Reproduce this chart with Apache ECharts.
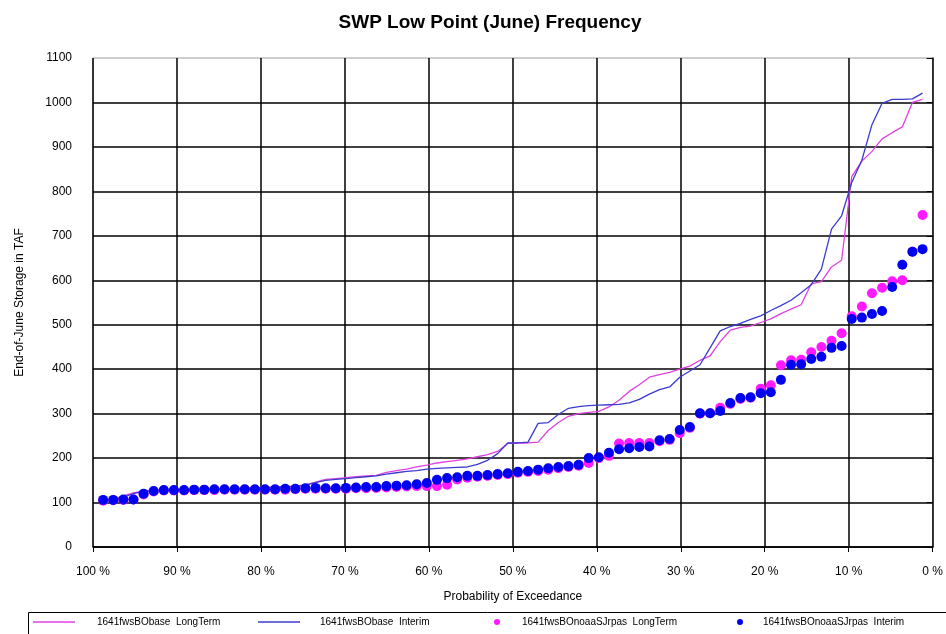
<!DOCTYPE html>
<html>
<head>
<meta charset="utf-8">
<title>SWP Low Point (June) Frequency</title>
<script src="https://cdn.jsdelivr.net/npm/echarts@6/dist/echarts.min.js"></script>
<style>
  html, body { margin: 0; padding: 0; background: #ffffff; }
  #chart { width: 946px; height: 634px; }
</style>
</head>
<body>
<div id="chart"></div>
<script>
// End-of-June SWP storage (TAF), each series sorted ascending (82 years)
const baseLongTerm = [
  105,106,115,122,126,128,128,129,129,130,130,131,131,132,132,133,
  134,135,136,137,140,146,152,154,156,158,160,161,168,172,175,180,
  184,189,192,195,198,203,208,215,233,234,234,236,262,280,294,300,303,305,
  315,330,350,365,382,388,393,400,407,420,430,462,488,494,497,
  505,513,525,535,545,592,597,630,645,833,868,890,918,932,945,1000,1007
];
const baseInterim = [
  105,106,112,120,125,127,128,128,129,129,130,130,131,131,132,132,
  133,134,135,136,139,145,150,152,154,156,158,160,164,167,170,172,
  175,177,178,179,180,186,195,210,234,234,236,278,280,298,312,316,318,319,
  320,321,324,332,344,354,360,382,396,410,448,486,496,503,512,
  520,532,543,555,572,590,625,715,745,820,870,950,998,1007,1007,1008,1021
];
const noaaLongTerm = [
  104,105,106,107,118,125,127,127,127,128,128,128,129,129,129,129,
  129,129,129,130,131,131,131,131,131,132,132,133,134,135,136,137,
  137,137,140,152,156,158,160,162,164,167,169,171,174,177,180,183,189,200,
  205,233,234,234,234,238,241,256,268,300,301,313,322,333,336,
  356,364,409,420,421,438,450,464,481,519,541,571,583,598,600,664,747
];
const noaaInterim = [
  106,106,107,107,120,126,128,128,128,129,129,130,130,130,130,130,
  130,130,131,131,132,133,132,132,133,134,135,135,137,138,139,141,
  144,151,155,157,160,160,162,164,166,169,171,174,177,180,182,185,200,202,
  212,220,222,225,226,240,243,263,270,301,301,306,324,335,337,
  346,348,376,410,411,423,428,448,452,513,516,524,531,585,635,664,670
];

const seriesNames = [
  '1641fwsBObase  LongTerm',
  '1641fwsBObase  Interim',
  '1641fwsBOnoaaSJrpas  LongTerm',
  '1641fwsBOnoaaSJrpas  Interim'
];
const xTicks = [100, 90, 80, 70, 60, 50, 40, 30, 20, 10, 0];

// Weibull plotting position: rank / (n + 1), largest value = smallest exceedance
function withExceedance(values) {
  const n = values.length;
  return values.map((v, i) => [(n - i) / (n + 1) * 100, v]);
}

const FONT = 'Liberation Sans, Arial, sans-serif';
const chart = echarts.init(document.getElementById('chart'), null, { renderer: 'canvas' });

// one legend per entry so each sits where the caption row puts it
function legendAt(left, name, icon, textPad, itemWidth, itemHeight) {
  return {
    left: left, top: 617,
    itemWidth: itemWidth, itemHeight: itemHeight,
    padding: 0,
    selectedMode: false,
    data: [{ name: name, icon: icon }],
    textStyle: { fontFamily: FONT, fontSize: 10, color: '#000', padding: [0, 0, 0, textPad] }
  };
}

chart.setOption({
  animation: false,
  backgroundColor: '#ffffff',
  title: {
    text: 'SWP Low Point (June) Frequency',
    left: 485, top: 8, textAlign: 'center',
    textStyle: { fontFamily: FONT, fontSize: 19, fontWeight: 'bold', color: '#000' }
  },
  grid: {
    left: 93, right: 12, top: 58, bottom: 87,
    show: true, borderColor: '#9a9a9a', borderWidth: 1, backgroundColor: 'transparent'
  },
  legend: [
    legendAt(33, seriesNames[0], 'rect', 17, 42, 1.5),
    legendAt(258, seriesNames[1], 'rect', 15, 42, 1.5),
    legendAt(494, seriesNames[2], 'circle', 17, 6, 6),
    legendAt(737, seriesNames[3], 'circle', 15, 6, 6)
  ],
  graphic: [{
    type: 'rect', left: 28, top: 612, silent: true,
    shape: { width: 930, height: 30 },
    style: { fill: 'transparent', stroke: '#000', lineWidth: 1 }
  }],
  xAxis: {
    type: 'value', min: 0, max: 100, interval: 10, inverse: true,
    name: 'Probability of Exceedance', nameLocation: 'middle', nameGap: 44,
    nameTextStyle: { fontFamily: FONT, fontSize: 12, color: '#000' },
    axisLine: { show: true, onZero: false, lineStyle: { color: '#000', width: 1.5 } },
    axisTick: { show: true, length: 5, lineStyle: { color: '#000' } },
    axisLabel: {
      fontFamily: FONT, fontSize: 12, color: '#000', margin: 19,
      formatter: v => (xTicks.indexOf(v) >= 0 ? v + ' %' : '')
    },
    splitLine: { show: true, showMinLine: false, lineStyle: { color: '#000', width: 1.5 } }
  },
  yAxis: {
    type: 'value', min: 0, max: 1100, interval: 100,
    name: 'End-of-June Storage in TAF', nameLocation: 'middle', nameGap: 67,
    nameTextStyle: { fontFamily: FONT, fontSize: 12, color: '#000' },
    axisLine: { show: true, lineStyle: { color: '#000', width: 1.5 } },
    axisTick: { show: true, length: 6, lineStyle: { color: '#000' } },
    axisLabel: { fontFamily: FONT, fontSize: 12, color: '#000', margin: 21, formatter: v => String(v) },
    splitLine: { show: true, showMaxLine: false, lineStyle: { color: '#000', width: 1.5 } }
  },
  series: [
    {
      name: seriesNames[0], type: 'line', data: withExceedance(baseLongTerm),
      symbol: 'none', z: 2,
      lineStyle: { color: '#e040e0', width: 1.3 }, itemStyle: { color: '#e040e0' }
    },
    {
      name: seriesNames[1], type: 'line', data: withExceedance(baseInterim),
      symbol: 'none', z: 2,
      lineStyle: { color: '#3b3bd0', width: 1.3 }, itemStyle: { color: '#3b3bd0' }
    },
    {
      name: seriesNames[2], type: 'scatter', data: withExceedance(noaaLongTerm),
      symbol: 'circle', symbolSize: 10, z: 3,
      itemStyle: { color: '#ff1aff', opacity: 1 }
    },
    {
      name: seriesNames[3], type: 'scatter', data: withExceedance(noaaInterim),
      symbol: 'circle', symbolSize: 10, z: 4,
      itemStyle: { color: '#0000f0', opacity: 1 }
    }
  ]
});
</script>
</body>
</html>
